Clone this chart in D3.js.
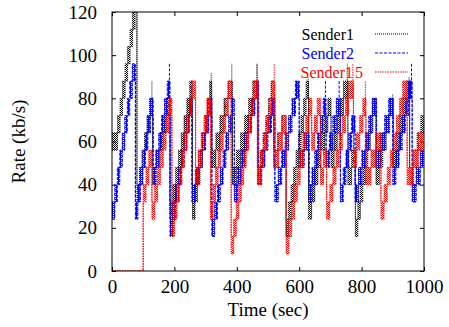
<!DOCTYPE html>
<html>
<head>
<meta charset="utf-8">
<script src="https://cdn.jsdelivr.net/npm/d3@7"></script>
<style>
  body { margin: 0; background: #fff; }
  svg text { font-family: "Liberation Serif", "Times New Roman", serif !important; }
</style>
</head>
<body>
<svg id="chart" width="449" height="327"></svg>
<script>
// each block: [start time (s), low rate, high rate] - the rate flips between low and high until the next block
let sender1 = [
  [0,56,64],[18,64,72],[26,72,80],[34,80,88],[42,88,96],[50,96,104],[58,104,112],[66,112,120],[74,120,128],
  [80,32,40],[88,40,48],[96,48,56],[104,56,64],[112,64,72],[120,72,80],
  [130,40,48],[141,48,56],[152,56,64],[163,64,72],[174,72,80],
  [186,24,32],[195,32,40],[204,40,48],[213,48,56],[222,56,64],[231,64,72],[240,72,80],[249,80,88],
  [258,24,32],[266,32,40],[274,40,48],[282,48,56],[290,56,64],[298,64,72],[306,72,80],[313,80,88],
  [320,48,56],[333,56,64],[346,64,72],[359,72,80],[372,80,88],
  [386,40,48],[399,48,56],[412,56,64],[425,64,72],[438,72,80],[451,80,88],
  [466,40,48],[475,48,56],[484,56,64],[493,64,72],[502,72,80],[510,80,88],
  [518,48,56],[531,56,64],[544,64,72],
  [558,16,24],[566,24,32],[574,32,40],[582,40,48],[590,48,56],[598,56,64],[606,64,72],[614,72,80],[622,80,88],
  [630,24,32],[640,32,40],[650,40,48],[660,48,56],[670,56,64],[681,64,72],[692,72,80],
  [702,48,56],[712,56,64],[722,64,72],[732,72,80],[742,80,88],
  [756,40,48],[768,48,56],
  [780,16,24],[788,24,32],[796,32,40],[804,40,48],[812,48,56],[820,56,64],[828,64,72],[836,72,80],
  [846,40,48],[857,48,56],[868,56,64],[879,64,72],[890,72,80],
  [902,48,56],[912,56,64],[922,64,72],[932,72,80],[942,80,88],
  [954,40,48],[966,48,56],[978,56,64],[990,64,72]
];
let sender2 = [
  [0,24,32],[9,32,40],[17,40,48],[25,48,56],[33,56,64],[41,64,72],[49,72,80],[57,80,88],[65,88,96],
  [75,24,32],[83,32,40],[91,40,48],[99,48,56],[107,56,64],[115,64,72],[123,72,80],
  [132,40,48],[141,48,56],[150,56,64],[159,64,72],[168,72,80],[177,80,88],
  [186,16,24],[195,24,32],[204,32,40],[213,40,48],[222,48,56],[231,56,64],[240,64,72],[248,72,80],
  [256,32,40],[267,40,48],[278,48,56],[289,56,64],[300,64,72],[310,72,80],
  [320,16,24],[329,24,32],[338,32,40],[347,40,48],[356,48,56],[365,56,64],[374,64,72],[383,72,80],
  [392,32,40],[403,40,48],[414,48,56],[425,56,64],[436,64,72],[447,72,80],[458,80,88],
  [470,40,48],[480,48,56],[490,56,64],[500,64,72],[511,72,80],
  [522,32,40],[533,40,48],[544,48,56],[555,56,64],[566,64,72],[577,72,80],[588,80,88],
  [600,48,56],[616,56,64],
  [632,32,40],[641,40,48],[650,48,56],[659,56,64],[668,64,72],[677,72,80],
  [686,48,56],[697,56,64],[708,64,72],[719,72,80],
  [732,32,40],[741,40,48],[750,48,56],[759,56,64],[768,64,72],
  [779,32,40],[790,40,48],[801,48,56],[812,56,64],[823,64,72],[834,72,80],
  [848,48,56],[861,56,64],[874,64,72],[887,72,80],
  [900,40,48],[910,48,56],[920,56,64],[930,64,72],[940,72,80],[950,80,88],
  [962,32,40],[975,40,48],[988,48,56]
];
let sender15 = [
  [0,0,0],
  [100,32,40],[109,40,48],[118,48,56],
  [128,24,32],[137,32,40],[146,40,48],[155,48,56],[164,56,64],[173,64,72],[182,72,80],
  [192,16,24],[200,24,32],[208,32,40],[216,40,48],[224,48,56],[232,56,64],[240,64,72],[248,72,80],[256,80,88],
  [268,40,48],[277,48,56],[286,56,64],[295,64,72],[304,72,80],
  [316,24,32],[324,32,40],[332,40,48],[340,48,56],[348,56,64],[356,64,72],[364,72,80],[372,80,88],
  [382,8,16],[390,16,24],[398,24,32],[406,32,40],[414,40,48],[422,48,56],[430,56,64],[438,64,72],[446,72,80],[454,80,88],
  [468,40,48],[477,48,56],[486,56,64],[495,64,72],[504,72,80],[513,80,88],
  [522,48,56],[534,56,64],[546,64,72],
  [558,8,16],[567,16,24],[576,24,32],[585,32,40],[594,40,48],[603,48,56],[612,56,64],[621,64,72],[631,72,80],
  [640,56,64],[649,64,72],[658,72,80],
  [668,40,48],[678,48,56],
  [688,24,32],[698,32,40],[708,40,48],[718,48,56],[728,56,64],[738,64,72],[748,72,80],[758,80,88],
  [774,48,56],[784,56,64],[794,64,72],[804,72,80],
  [814,40,48],[830,48,56],[846,56,64],
  [862,24,32],[872,32,40],[882,40,48],[892,48,56],[902,56,64],[912,64,72],[922,72,80],[932,80,88],
  [946,40,48],[964,48,56],[982,56,64]
];
// short single-sample peaks: [time, from, to]
let sender1Spikes = [[128,72,88],[318,80,92],[384,80,96],[464,80,96],[628,80,90],[754,80,96],[900,72,82],[952,80,90]];
let sender2Spikes = [[184,80,96],[254,72,88],[596,80,88],[684,72,88],[728,72,88],[960,80,96]];
let sender15Spikes = [[466,80,96],[520,80,96],[772,80,96],[812,72,88]];

let senderNames = ["Sender1", "Sender2", "Sender15"];
let timeTicks = [0, 200, 400, 600, 800, 1000];
let rateTicks = [0, 20, 40, 60, 80, 100, 120];

let colors = ["#000000", "#0000ff", "#ff0000"];
let dashes = ["1,1", "3,1.5", "1.5,1"];

let plotLeft = 112, plotRight = 424, plotTop = 12, plotBottom = 271;

let svg = d3.select("#chart");

let timeScale = d3.scaleLinear()
    .domain([0, 1000])
    .range([plotLeft, plotRight]);

let rateScale = d3.scaleLinear()
    .domain([0, 120])
    .range([plotBottom, plotTop]);

let defs = svg.append("defs");

defs.append("clipPath")
    .attr("id", "plotClip")
    .append("rect")
    .attr("x", plotLeft)
    .attr("y", plotTop)
    .attr("width", plotRight - plotLeft)
    .attr("height", plotBottom - plotTop);

// hatch that stands for the fast flipping between two rates
colors.forEach((c, i) => {
    let p = defs.append("pattern")
        .attr("id", "hatch" + i)
        .attr("width", 2)
        .attr("height", 2)
        .attr("patternUnits", "userSpaceOnUse");
    p.append("rect").attr("x", 0).attr("y", 0).attr("width", 1).attr("height", 1).attr("fill", c);
    p.append("rect").attr("x", 1).attr("y", 1).attr("width", 1).attr("height", 1).attr("fill", c);
    if (i == 1) {
        p.append("rect").attr("x", 0).attr("y", 1).attr("width", 1).attr("height", 1).attr("fill", c);
    }
});

// axes, gnuplot style: ticks inside, mirrored
let xAxis = d3.axisBottom(timeScale)
    .tickValues(timeTicks)
    .tickFormat(d3.format("d"))
    .tickSize(-4)
    .tickPadding(9);
let yAxis = d3.axisLeft(rateScale)
    .tickValues(rateTicks)
    .tickFormat(d3.format("d"))
    .tickSize(-4)
    .tickPadding(15);

svg.append("g")
    .attr("transform", "translate(0," + plotBottom + ")")
    .call(xAxis);
svg.append("g")
    .attr("transform", "translate(" + plotLeft + ",0)")
    .call(yAxis);

svg.append("g")
    .attr("transform", "translate(0," + plotTop + ")")
    .call(d3.axisTop(timeScale).tickValues(timeTicks).tickSize(-4).tickFormat(""));
svg.append("g")
    .attr("transform", "translate(" + plotRight + ",0)")
    .call(d3.axisRight(rateScale).tickValues(rateTicks).tickSize(-4).tickFormat(""));

svg.selectAll(".domain").remove();
svg.selectAll(".tick line").attr("stroke", "#000");
svg.selectAll(".tick text")
    .style("font-size", "19px")
    .attr("fill", "#000");

let plot = svg.append("g")
    .attr("clip-path", "url(#plotClip)");

let allSeries = [sender1, sender2, sender15];
let allSpikes = [sender1Spikes, sender2Spikes, sender15Spikes];

allSeries.forEach((series, i) => {
    let endOf = j => j + 1 < series.length ? series[j + 1][0] : 1000;
    let g = plot.append("g");

    g.selectAll("rect")
        .data(series.filter(d => d[2] > d[1]))
        .enter()
        .append("rect")
        .attr("x", d => timeScale(d[0]))
        .attr("width", d => Math.max(1, timeScale(endOf(series.indexOf(d))) - timeScale(d[0])))
        .attr("y", d => rateScale(d[2]))
        .attr("height", d => rateScale(d[1]) - rateScale(d[2]))
        .attr("fill", "url(#hatch" + i + ")");

    let lastBlock = series[series.length - 1];
    let withEnd = series.concat([[1000, lastBlock[1], lastBlock[2]]]);

    [1, 2].forEach(k => {
        let stepLine = d3.line()
            .x(d => timeScale(d[0]))
            .y(d => rateScale(d[k]))
            .curve(d3.curveStepAfter);
        g.append("path")
            .datum(withEnd)
            .attr("d", stepLine)
            .attr("fill", "none")
            .attr("stroke", colors[i])
            .attr("stroke-width", 1)
            .attr("stroke-dasharray", dashes[i]);
    });

    g.selectAll("line.spike")
        .data(allSpikes[i])
        .enter()
        .append("line")
        .attr("class", "spike")
        .attr("x1", d => timeScale(d[0]))
        .attr("x2", d => timeScale(d[0]))
        .attr("y1", d => rateScale(d[1]))
        .attr("y2", d => rateScale(d[2]))
        .attr("stroke", colors[i])
        .attr("stroke-width", 1)
        .attr("stroke-dasharray", dashes[i]);
});

// frame
svg.append("rect")
    .attr("x", plotLeft)
    .attr("y", plotTop)
    .attr("width", plotRight - plotLeft)
    .attr("height", plotBottom - plotTop)
    .attr("fill", "none")
    .attr("stroke", "#000")
    .attr("stroke-width", 1);

// legend
let legendY = [34, 53, 72];
senderNames.forEach((name, i) => {
    let label = svg.append("text")
        .attr("x", i == 2 ? 363 : 354)
        .attr("y", legendY[i] + 6)
        .attr("text-anchor", "end")
        .style("font-size", "16px")
        .attr("fill", colors[i]);
    if (name.length > 7) {
        label.append("tspan").text(name.slice(0, 7));
        label.append("tspan").attr("dx", 2).text(name.slice(7));
    } else {
        label.text(name);
    }
    svg.append("line")
        .attr("x1", 375)
        .attr("x2", 408)
        .attr("y1", legendY[i])
        .attr("y2", legendY[i])
        .attr("stroke", colors[i])
        .attr("stroke-width", 1)
        .attr("stroke-dasharray", dashes[i]);
});

// axis titles
svg.append("text")
    .attr("x", (plotLeft + plotRight) / 2)
    .attr("y", 316)
    .attr("text-anchor", "middle")
    .style("font-size", "19px")
    .text("Time (sec)");

svg.append("text")
    .attr("transform", "translate(25," + (plotTop + plotBottom) / 2 + ") rotate(-90)")
    .attr("text-anchor", "middle")
    .style("font-size", "19px")
    .text("Rate (kb/s)");
</script>
</body>
</html>
